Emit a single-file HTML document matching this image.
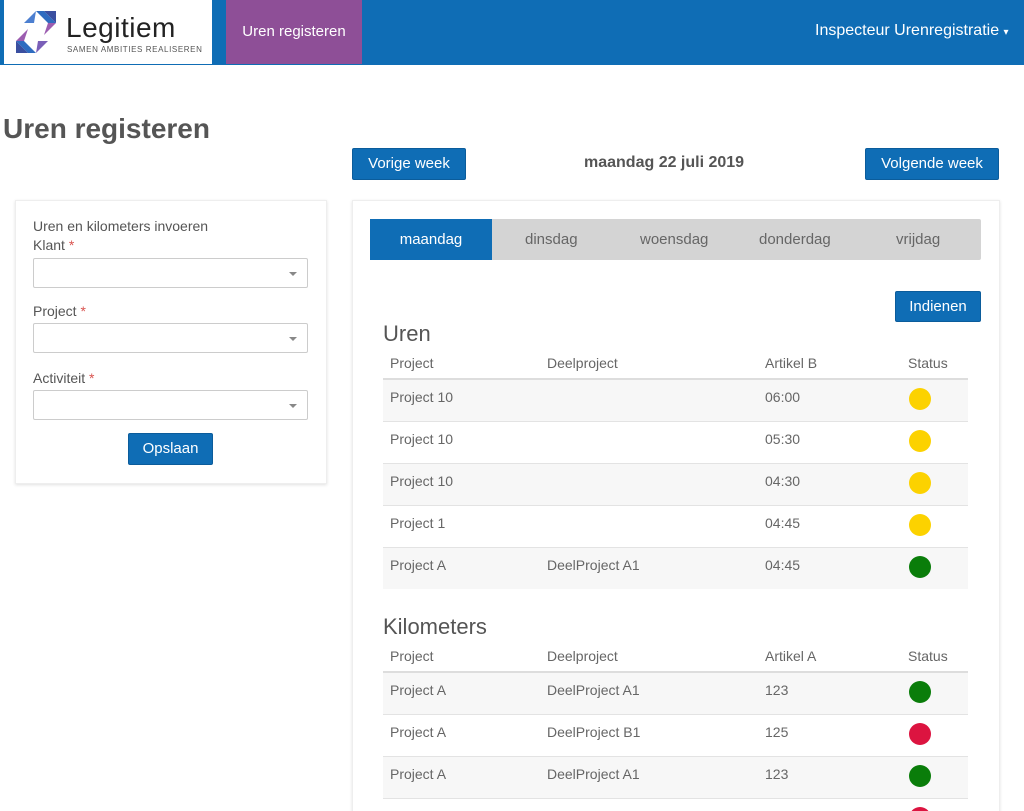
<!DOCTYPE html>
<html style="height:811px;overflow:hidden"><head><meta charset="utf-8"><style>
*{margin:0;padding:0;box-sizing:border-box}
body{width:1024px;height:811px;overflow:hidden;background:#fff;font-family:"Liberation Sans",sans-serif;position:relative;color:#666}
.a{position:absolute}
.btn{position:absolute;background:#0f6db5;color:#fff;font-size:15px;text-align:center;border-radius:2px;border:1px solid #0b5c9b}
.sel{position:absolute;left:33px;width:275px;height:30px;border:1px solid #ccc;border-radius:2px;background:#fff}
.sel:after{content:"";position:absolute;right:10px;top:13px;border-left:4px solid transparent;border-right:4px solid transparent;border-top:4px solid #888}
.lbl{position:absolute;left:33px;font-size:14px;color:#555}
.lbl i{color:#d9534f;font-style:normal;font-size:14px}
.row{position:absolute;left:383px;width:585px;height:42px;border-top:1px solid #e3e3e3;font-size:14px;color:#666}
.row span{position:absolute;top:9px}
.g{background:#f7f7f7}
.dot{position:absolute;left:526px;top:8px;width:22px;height:22px;border-radius:50%}
.th{position:absolute;font-size:14px;color:#666}
</style></head><body>
<div class="a" style="left:0;top:0;width:1024px;height:65px;background:#0f6db5"></div>
<div class="a" style="left:4px;top:0;width:208px;height:64px;background:#fff"></div>
<svg class="a" style="left:14px;top:11px" width="44" height="42" viewBox="0 0 44 42">
<polygon points="22,0 30,0 42,12 34,12" fill="#2f6cc0"/><polygon points="30,0 42,12 42,0" fill="#3a4fa0"/>
<polygon points="34,12 42,12 30,24" fill="#9c5db0"/>
<polygon points="14,18 2,30 10,30" fill="#9c5db0"/><polygon points="2,30 14,42 22,42 10,30" fill="#2f6cc0"/>
<polygon points="2,30 2,42 14,42" fill="#3a4fa0"/>
<polygon points="22,0 10,12 20,12" fill="#4c7fd0"/><polygon points="34,30 22,42 24,30" fill="#7a5fb8"/>
</svg>
<div class="a" style="left:66px;top:12px;font-size:28px;color:#222;letter-spacing:0.5px">Legitiem</div>
<div class="a" style="left:67px;top:45px;font-size:8px;color:#555;letter-spacing:0.6px">SAMEN AMBITIES REALISEREN</div>
<div class="a" style="left:226px;top:0;width:136px;height:64px;background:#8e4f97;color:#fff;font-size:15px;text-align:center;line-height:64px">Uren registeren</div>
<div class="a" style="left:815px;top:22px;font-size:16px;color:#fff">Inspecteur Urenregistratie <span style="font-size:10px">▾</span></div>
<div class="a" style="left:3px;top:113px;font-size:28px;font-weight:bold;color:#555">Uren registeren</div>
<div class="btn" style="left:352px;top:148px;width:114px;height:32px;line-height:30px">Vorige week</div>
<div class="a" style="left:584px;top:154px;font-size:16px;font-weight:bold;color:#555">maandag 22 juli 2019</div>
<div class="btn" style="left:865px;top:148px;width:134px;height:32px;line-height:30px">Volgende week</div>
<div class="a" style="left:15px;top:200px;width:312px;height:284px;border:1px solid #eee;box-shadow:0 1px 3px rgba(0,0,0,.12)"></div>
<div class="lbl" style="top:218px">Uren en kilometers invoeren</div>
<div class="lbl" style="top:237px">Klant <i>*</i></div>
<div class="sel" style="top:258px"></div>
<div class="lbl" style="top:303px">Project <i>*</i></div>
<div class="sel" style="top:323px"></div>
<div class="lbl" style="top:370px">Activiteit <i>*</i></div>
<div class="sel" style="top:390px"></div>
<div class="btn" style="left:128px;top:433px;width:85px;height:32px;line-height:30px">Opslaan</div>
<div class="a" style="left:352px;top:200px;width:648px;height:640px;border:1px solid #eee;box-shadow:0 1px 3px rgba(0,0,0,.12)"></div>
<div class="a" style="left:370px;top:219px;width:611px;height:41px;background:#d4d4d4;border-radius:2px;font-size:15px;color:#666">
<div class="a" style="left:0;top:0;width:122px;height:41px;background:#0f6db5;color:#fff;text-align:center;line-height:41px">maandag</div>
<div class="a" style="left:155px;top:12px">dinsdag</div>
<div class="a" style="left:270px;top:12px">woensdag</div>
<div class="a" style="left:389px;top:12px">donderdag</div>
<div class="a" style="left:526px;top:12px">vrijdag</div>
</div>
<div class="btn" style="left:895px;top:291px;width:86px;height:31px;line-height:29px">Indienen</div>
<div class="a" style="left:383px;top:321px;font-size:22px;color:#555">Uren</div>
<div class="th" style="left:390px;top:355px">Project</div><div class="th" style="left:547px;top:355px">Deelproject</div><div class="th" style="left:765px;top:355px">Artikel B</div><div class="th" style="left:908px;top:355px">Status</div>
<div class="a" style="left:383px;top:378px;width:585px;height:2px;background:#ddd"></div>
<div class="row g" style="top:380px;border-top:none"><span style="left:7px">Project 10</span><span style="left:382px">06:00</span><div class="dot" style="background:#fcd200"></div></div>
<div class="row" style="top:421px"><span style="left:7px">Project 10</span><span style="left:382px">05:30</span><div class="dot" style="background:#fcd200"></div></div>
<div class="row g" style="top:463px"><span style="left:7px">Project 10</span><span style="left:382px">04:30</span><div class="dot" style="background:#fcd200"></div></div>
<div class="row" style="top:505px"><span style="left:7px">Project 1</span><span style="left:382px">04:45</span><div class="dot" style="background:#fcd200"></div></div>
<div class="row g" style="top:547px"><span style="left:7px">Project A</span><span style="left:164px">DeelProject A1</span><span style="left:382px">04:45</span><div class="dot" style="background:#0a7d0a"></div></div>
<div class="a" style="left:383px;top:614px;font-size:22px;color:#555">Kilometers</div>
<div class="th" style="left:390px;top:648px">Project</div><div class="th" style="left:547px;top:648px">Deelproject</div><div class="th" style="left:765px;top:648px">Artikel A</div><div class="th" style="left:908px;top:648px">Status</div>
<div class="a" style="left:383px;top:671px;width:585px;height:2px;background:#ddd"></div>
<div class="row g" style="top:673px;border-top:none"><span style="left:7px">Project A</span><span style="left:164px">DeelProject A1</span><span style="left:382px">123</span><div class="dot" style="background:#0a7d0a"></div></div>
<div class="row" style="top:714px"><span style="left:7px">Project A</span><span style="left:164px">DeelProject B1</span><span style="left:382px">125</span><div class="dot" style="background:#dc1440"></div></div>
<div class="row g" style="top:756px"><span style="left:7px">Project A</span><span style="left:164px">DeelProject A1</span><span style="left:382px">123</span><div class="dot" style="background:#0a7d0a"></div></div>
<div class="row" style="top:798px"><div class="dot" style="background:#dc1440"></div></div>
</body></html>
